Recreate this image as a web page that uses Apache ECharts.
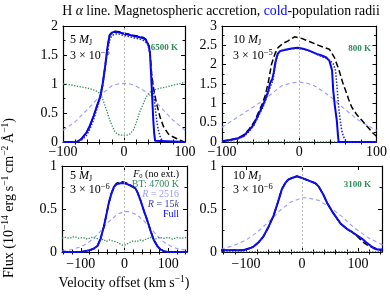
<!DOCTYPE html>
<html><head><meta charset="utf-8">
<script src="https://cdn.jsdelivr.net/npm/echarts@6/dist/echarts.min.js"></script>
<style>html,body{margin:0;padding:0;background:#fff}#c{width:390px;height:298px}</style>
</head><body><div id="c"></div>
<script>
// ---------- Data (velocity km/s, flux 1e-14 erg/s/cm2/A) ----------
// Top-left: 5 MJ, 3e-5, 6500 K
const tlFullV = [-100,-78,-70,-61,-56,-50,-45,-39,-35,-31,-27,-23.5,-19,-15,-8,-1,8,15,24,32,36,39,41,42.6,44,45.4,47,48,49.5,51,52,100];
const tlFullF = [0,0,0.05,0.17,0.28,0.44,0.6,0.78,1.0,1.3,1.64,1.84,1.89,1.9,1.89,1.87,1.85,1.83,1.81,1.79,1.76,1.73,1.64,1.53,1.25,0.95,0.6,0.38,0.15,0.02,0,0];
const tlF0V = [-100,-78,-70,-61,-56,-50,-45,-39,-35,-31,-27,-23.5,-19,-15,-8,-1,8,15,24,32,36,39,41,43,45,48,53,59,65,72.6,80,86,92,97,100];
const tlF0F = [0,0,0.05,0.17,0.28,0.44,0.6,0.78,1.0,1.3,1.64,1.85,1.9,1.91,1.9,1.88,1.86,1.84,1.82,1.8,1.77,1.74,1.66,1.5,1.2,0.95,0.68,0.43,0.26,0.14,0.09,0.06,0.03,0.01,0];
const tlR15V = [-100,-78,-70,-61,-56,-50,-45,-39,-35,-31,-27,-23,-19,-15,-8,-1,8,15,24,32,36,39,42,44,46,48,50,53.5,56,59,62,65,100];
const tlR15F = [0,0,0.03,0.12,0.22,0.38,0.55,0.75,0.95,1.25,1.58,1.78,1.84,1.86,1.86,1.84,1.82,1.8,1.78,1.75,1.72,1.68,1.55,1.35,1.1,0.95,0.7,0.38,0.22,0.1,0.04,0,0];
const tlR25V = [-100,-80,-61,-50,-37,-20,-10,0,10,20,37,50,60,70,80,97,100];
const tlR25F = [0.2,0.35,0.55,0.67,0.82,0.97,1.0,1.01,1.0,0.96,0.86,0.72,0.6,0.49,0.38,0.23,0.2];
const tlBTV = [-100,-90,-80,-70,-60,-50,-42,-37,-31,-27,-23.5,-19,-15,-10,-5,0,5,10,15,19,23,27,31.7,36,42.6,50,60,70,80,90,100];
const tlBTF = [1.0,0.99,0.97,0.95,0.93,0.9,0.86,0.8,0.62,0.5,0.38,0.27,0.18,0.13,0.12,0.12,0.12,0.14,0.2,0.3,0.43,0.55,0.66,0.77,0.86,0.9,0.93,0.95,0.98,1.0,1.03];

// Top-right: 10 MJ, 3e-5, 800 K
const trFullV = [-100,-90,-80,-72,-65,-59,-52.5,-47,-44,-40,-37.5,-35,-33,-31,-28,-25,-19,-10,-2,5,12,22.5,30,35,39,42.5,44,46,48.6,50,51,100];
const trFullF = [0.02,0.05,0.09,0.16,0.3,0.45,0.72,0.95,1.1,1.33,1.54,1.62,1.8,2.05,2.28,2.35,2.38,2.42,2.44,2.41,2.37,2.28,2.23,2.19,2.1,1.85,1.33,0.95,0.56,0.2,0,0];
const trF0V = [-100,-90,-80,-72,-65,-58,-52.5,-48,-44,-40,-35.8,-31,-27.5,-21,-15,-6,3,13,25,33,39,45.4,51.6,56,60,64,68,74,81,88,96,100];
const trF0F = [0.02,0.05,0.1,0.18,0.33,0.53,0.78,0.98,1.21,1.55,2.02,2.3,2.44,2.55,2.61,2.72,2.68,2.6,2.5,2.44,2.4,2.19,1.85,1.55,1.33,1.1,0.9,0.72,0.56,0.4,0.22,0.15];
const trR15V = [-100,-90,-80,-72,-65,-59,-52.5,-47,-44,-40,-37,-34,-32,-30,-27,-22,-10,-2,5,12,22.5,30,36,40,44,47,49,51,53,55,57,60,63,100];
const trR15F = [0.02,0.04,0.08,0.14,0.27,0.42,0.68,0.9,1.05,1.28,1.45,1.6,1.85,2.1,2.3,2.38,2.41,2.42,2.4,2.36,2.27,2.2,2.15,2.1,2.02,1.85,1.4,0.9,0.56,0.3,0.15,0.04,0,0];
const trR25V = [-100,-80,-60,-50,-40,-23,-10,0,10,20,32,40,56,60,77,80,100];
const trR25F = [0.38,0.64,0.9,1.03,1.18,1.45,1.53,1.55,1.52,1.45,1.29,1.18,0.9,0.83,0.56,0.52,0.3];
const trBTV = [-100,100];
const trBTF = [0.005,0.005];

// Bottom-left: 5 MJ, 3e-6, 4700 K
const blFullV = [-143,-100,-90,-80,-70,-62,-55,-47,-40,-36,-30,-24,-18,-9,0,6,15,25,30,36,45,52,60,67,75,82,90,100,143];
const blFullF = [0,0,0.01,0.02,0.04,0.07,0.15,0.3,0.47,0.57,0.68,0.76,0.79,0.8,0.8,0.79,0.77,0.74,0.69,0.61,0.47,0.37,0.24,0.14,0.07,0.03,0.01,0,0];
const blF0F = [0,0,0.01,0.02,0.04,0.07,0.15,0.3,0.47,0.57,0.68,0.76,0.8,0.82,0.81,0.8,0.77,0.74,0.69,0.61,0.47,0.37,0.24,0.14,0.07,0.03,0.01,0,0];
const blR15F = [0,0,0.01,0.02,0.04,0.07,0.14,0.29,0.46,0.56,0.67,0.75,0.79,0.8,0.8,0.79,0.77,0.74,0.69,0.61,0.47,0.37,0.24,0.14,0.07,0.03,0.01,0,0];
const blR25V = [-143,-120,-100,-85,-62,-47,-39,-16,0,10,29,45,59,75,89,105,120,143];
const blR25F = [0.01,0.03,0.06,0.1,0.2,0.29,0.34,0.44,0.47,0.47,0.43,0.36,0.28,0.19,0.12,0.07,0.04,0.02];
const blBTV = [-143,-135,-125,-115,-105,-95,-85,-75,-65,-55,-48,-42,-35,-28,-20,-12,-5,0,5,12,20,28,35,42,50,60,70,80,90,100,110,120,130,143];
const blBTF = [0.16,0.17,0.16,0.18,0.16,0.17,0.15,0.17,0.16,0.14,0.15,0.12,0.14,0.13,0.12,0.1,0.08,0.08,0.09,0.11,0.13,0.12,0.14,0.13,0.15,0.17,0.15,0.17,0.16,0.17,0.15,0.17,0.16,0.17];

// Bottom-right: 10 MJ, 3e-6, 3100 K
const brFullV = [-145,-120,-105,-95,-87,-78,-69,-60,-51,-43,-36,-30,-25,-18,-9,0,3,12,24,30,38,45,55,69,80,90,99,108,117,123,129,135,145];
const brFullF = [0.02,0.02,0.02,0.04,0.06,0.11,0.18,0.29,0.42,0.58,0.73,0.8,0.84,0.86,0.88,0.86,0.85,0.83,0.8,0.76,0.67,0.57,0.46,0.33,0.27,0.23,0.19,0.15,0.1,0.07,0.04,0.03,0.03];
const brF0F = [0.02,0.02,0.02,0.04,0.06,0.11,0.18,0.29,0.42,0.58,0.73,0.8,0.84,0.86,0.88,0.86,0.85,0.83,0.8,0.76,0.67,0.57,0.46,0.33,0.27,0.23,0.18,0.12,0.08,0.06,0.05,0.03,0.02];
const brR25V = [-145,-120,-100,-80,-60,-50,-40,-20,0,10,30,50,70,90,100,120,145];
const brR25F = [0.03,0.08,0.14,0.23,0.35,0.41,0.48,0.58,0.63,0.63,0.6,0.52,0.42,0.3,0.25,0.16,0.08];
const brBTV = [-145,145];
const brBTF = [0.005,0.005];

// Tick labels
const xLabelsTick = [-100, 0, 100];
const xMinorTop = [-80,-60,-40,-20,20,40,60,80];
const xMinorBot = [-140,-120,-80,-60,-40,-20,20,40,60,80,120,140];

// ---------- Styling ----------
const SERIF = "'Liberation Serif', 'DejaVu Serif', serif";
const C = {full:'#0000ff', r15:'#2424b8', r25:'#9999ff', f0:'#000000', bt:'#2e8b57'};
const TICKFS = 14;
const ANNFS = 12;

const grids = [
  {left:63, top:26, width:122, height:116, xmin:-100, xmax:100, ymax:2, minors:xMinorTop},
  {left:222, top:26, width:160, height:116, xmin:-100, xmax:100, ymax:3, minors:xMinorTop},
  {left:62, top:166, width:125, height:86, xmin:-143, xmax:143, ymax:1, minors:xMinorBot},
  {left:222, top:166, width:160, height:86, xmin:-143, xmax:143, ymax:1, minors:xMinorBot}
];
const panelSeries = [
  {r25:[tlR25V,tlR25F], bt:[tlBTV,tlBTF], f0:[tlF0V,tlF0F], full:[tlFullV,tlFullF], r15:[tlR15V,tlR15F]},
  {r25:[trR25V,trR25F], bt:[trBTV,trBTF], f0:[trF0V,trF0F], full:[trFullV,trFullF], r15:[trR15V,trR15F]},
  {r25:[blR25V,blR25F], bt:[blBTV,blBTF], f0:[blFullV,blF0F], full:[blFullV,blFullF], r15:[blFullV,blR15F]},
  {r25:[brR25V,brR25F], bt:[brBTV,brBTF], f0:[brFullV,brF0F], full:[brFullV,brFullF], r15:[brFullV,brFullF]}
];
const fmt = v => (v < 0 ? '\u2212' + Math.abs(v) : String(v));
function pairs(v, f){ return v.map((x,i)=>[x, f[i]]); }

const xAxis = [], yAxis = [], series = [];
grids.forEach((g, i) => {
  const base = {gridIndex:i, type:'value', min:g.xmin, max:g.xmax, splitLine:{show:false}};
  const xi = xAxis.length;
  xAxis.push(Object.assign({}, base, {position:'bottom',
    axisLine:{show:true, onZero:false, lineStyle:{color:'#000', width:1.2}},
    axisTick:{show:true, inside:true, length:4, customValues:xLabelsTick, lineStyle:{color:'#000'}},
    axisLabel:{show:true, customValues:xLabelsTick, formatter:fmt, color:'#000', fontFamily:SERIF, fontSize:TICKFS, margin: i<2?3:5}}));
  xAxis.push(Object.assign({}, base, {position:'bottom',
    axisLine:{show:false}, axisTick:{show:true, inside:true, length:2.5, customValues:g.minors, lineStyle:{color:'#000'}}, axisLabel:{show:false}}));
  xAxis.push(Object.assign({}, base, {position:'top',
    axisLine:{show:true, onZero:false, lineStyle:{color:'#000', width:1.2}},
    axisTick:{show:true, inside:true, length:4, customValues:xLabelsTick, lineStyle:{color:'#000'}}, axisLabel:{show:false}}));
  xAxis.push(Object.assign({}, base, {position:'top',
    axisLine:{show:false}, axisTick:{show:true, inside:true, length:2.5, customValues:g.minors, lineStyle:{color:'#000'}}, axisLabel:{show:false}}));
  const ybase = {gridIndex:i, type:'value', min:0, max:g.ymax, interval:0.5, splitLine:{show:false},
    minorTick:{show:true, splitNumber:2, length:2.5, lineStyle:{color:'#000'}}};
  const yi = yAxis.length;
  yAxis.push(Object.assign({}, ybase, {position:'left',
    axisLine:{show:true, onZero:false, lineStyle:{color:'#000', width:1.2}},
    axisTick:{show:true, inside:true, length:4, lineStyle:{color:'#000'}},
    axisLabel:{show:true, color:'#000', fontFamily:SERIF, fontSize:TICKFS, margin:5}}));
  yAxis.push(Object.assign({}, ybase, {position:'right',
    axisLine:{show:true, onZero:false, lineStyle:{color:'#000', width:1.2}},
    axisTick:{show:true, inside:true, length:4, lineStyle:{color:'#000'}},
    axisLabel:{show:false}}));

  const ps = panelSeries[i];
  const common = {type:'line', xAxisIndex:xi, yAxisIndex:yi, showSymbol:false, symbol:'none', silent:true, animation:false};
  series.push(Object.assign({}, common, {data:[], z:1,
    markLine:{silent:true, symbol:['none','none'], label:{show:false}, animation:false,
      lineStyle:{color:'#b8b8b8', type:[2,2], width:1}, data:[{xAxis:0}]}}));
  series.push(Object.assign({}, common, {z:2, data:pairs(ps.r25[0], ps.r25[1]), lineStyle:{color:C.r25, width:1.1, type:[4,3]}}));
  series.push(Object.assign({}, common, {z:2, data:pairs(ps.bt[0], ps.bt[1]), lineStyle:{color:C.bt, width:1.3, type:[1.3,1.5]}}));
  series.push(Object.assign({}, common, {z:3, data:pairs(ps.f0[0], ps.f0[1]), lineStyle:{color:C.f0, width:1.5, type:[6,3]}}));
  series.push(Object.assign({}, common, {z:4, data:pairs(ps.full[0], ps.full[1]), lineStyle:{color:C.full, width:2}}));
  series.push(Object.assign({}, common, {z:5, data:pairs(ps.r15[0], ps.r15[1]), lineStyle:{color:C.r15, width:1.5, type:[1.5,1.6]}}));
});

// ---------- Text ----------
const richBase = {
  it:{fontStyle:'italic', fontFamily:SERIF, fontSize:ANNFS, fill:'#000'},
  sub:{fontStyle:'normal', fontFamily:SERIF, fontSize:8, padding:[6,0,0,0]},
  sup:{fontFamily:SERIF, fontSize:8.5, padding:[0,0,7,0]},
  supb:{fontFamily:SERIF, fontSize:9.5, padding:[0,0,8,0]}
};
function txt(x, y, text, opts){
  opts = opts || {};
  return {type:'text', x:x, y:y, rotation:opts.rotation||0, silent:true,
    style:Object.assign({text:text, fontFamily:SERIF, fontSize:opts.fontSize||ANNFS, fill:opts.color||'#000',
      align:opts.align||'left', verticalAlign:'middle', fontWeight:opts.weight||'normal', rich:richBase}, opts.style||{})};
}
const graphics = [
  txt(221, 11, 'H {it|\u03b1} line. Magnetospheric accretion, {b|cold}-population radii',
     {align:'center', fontSize:13.8, style:{rich:Object.assign({}, richBase, {it:{fontStyle:'italic', fontFamily:SERIF, fontSize:13.8}, b:{fill:'#0000ff', fontFamily:SERIF, fontSize:13.8}})}}),
  // TL
  txt(70, 40, '5 {it|M}{sub|J}'),
  txt(70, 56, '3 \u00d7 10{sup|\u22125}'),
  txt(178, 48, '6500 K', {align:'right', fontSize:9, color:C.bt, weight:'bold'}),
  // TR
  txt(233, 40, '10 {it|M}{sub|J}'),
  txt(233, 56, '3 \u00d7 10{sup|\u22125}'),
  txt(371, 49, '800 K', {align:'right', fontSize:9, color:C.bt, weight:'bold'}),
  // BL
  txt(70, 176, '5 {it|M}{sub|J}'),
  txt(70, 190, '3 \u00d7 10{sup|\u22126}'),
  txt(179, 174, '{iF|F}{sub|0} (no ext.)', {align:'right', fontSize:10, style:{rich:Object.assign({}, richBase, {iF:{fontStyle:'italic', fontFamily:SERIF, fontSize:10}, sub:{fontFamily:SERIF, fontSize:6.5, padding:[5,0,0,0]}})}}),
  txt(179, 184, 'BT: 4700 K', {align:'right', fontSize:10, color:C.bt}),
  txt(179, 194, '{i|R} = 2516', {align:'right', fontSize:10, color:C.r25, style:{rich:{i:{fontStyle:'italic', fontFamily:SERIF, fontSize:10, fill:C.r25}}}}),
  txt(179, 204, '{i|R} = 15{i|k}', {align:'right', fontSize:10, color:'#3a3aaa', style:{rich:{i:{fontStyle:'italic', fontFamily:SERIF, fontSize:10, fill:'#3a3aaa'}}}}),
  txt(179, 214, 'Full', {align:'right', fontSize:10, color:C.full}),
  // BR
  txt(233, 176, '10 {it|M}{sub|J}'),
  txt(233, 190, '3 \u00d7 10{sup|\u22126}'),
  txt(371, 185, '3100 K', {align:'right', fontSize:9, color:C.bt, weight:'bold'}),
  // axis titles
  txt(124, 283, 'Velocity offset (km\u2009s{supb|\u22121})', {align:'center', fontSize:14}),
  txt(9, 198, 'Flux (10{supb|\u221214} erg\u2009s{supb|\u22121}\u2009cm{supb|\u22122}\u2009\u00c5{supb|\u22121})', {align:'center', fontSize:14, rotation:Math.PI/2})
];

const chart = echarts.init(document.getElementById('c'), null, {renderer:'canvas'});
chart.setOption({
  animation:false,
  backgroundColor:'#fff',
  grid: grids.map(g => ({left:g.left, top:g.top, width:g.width, height:g.height, containLabel:false})),
  xAxis, yAxis, series,
  graphic: graphics
});
</script></body></html>
